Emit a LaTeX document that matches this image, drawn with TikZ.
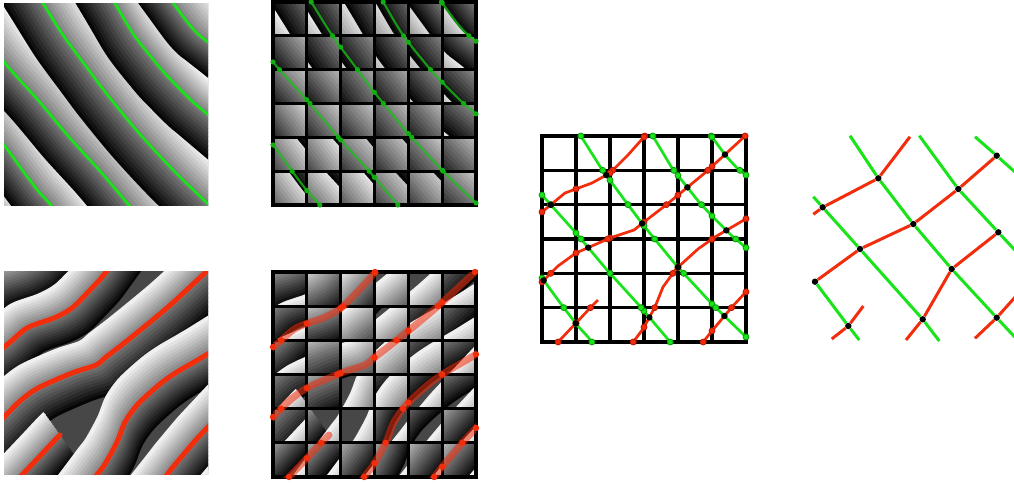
\documentclass[tikz,border=0pt]{standalone}
\usepackage{xcolor}
\usepackage{tikz}
\usetikzlibrary{intersections}

\definecolor{stripeGreen}{RGB}{25,228,25}
\definecolor{darkGreen}{RGB}{15,150,15}
\definecolor{stripeRed}{RGB}{242,45,12}
\definecolor{darkRed}{RGB}{185,25,5}

\tikzset{
  curvekind/.style={smooth},
  gridline/.style={line width=0.82mm, line cap=rect},
  greenline/.style={stripeGreen, line width=0.68mm, line join=round},
  redline/.style={stripeRed, line width=1.25mm, line cap=round, line join=round},
  softgreen/.style={stripeGreen!85!black, line width=0.55mm, opacity=0.75},
  softred/.style={stripeRed, line width=1.75mm, line cap=round, opacity=0.55},
  tracegreen/.style={stripeGreen, line width=0.68mm, line join=round},
  tracered/.style={stripeRed, line width=0.68mm, line join=round},
  gdot/.style={circle, fill=darkGreen!70!stripeGreen, inner sep=0pt, minimum size=1.3mm},
  rdot/.style={circle, fill=stripeRed, inner sep=0pt, minimum size=1.6mm},
  gring/.style={circle, fill=stripeGreen, draw=darkGreen, line width=0.2mm, inner sep=0pt, minimum size=1.5mm},
  rring/.style={circle, fill=stripeRed, draw=darkRed, line width=0.2mm, inner sep=0pt, minimum size=1.5mm},
  bdot/.style={circle, fill=black, inner sep=0pt, minimum size=1.6mm},
  meshgreen/.style={stripeGreen, line width=0.75mm},
  meshred/.style={stripeRed, line width=0.75mm},
}

% level lines, in pixels of the two left panels
\def\greenA{plot[curvekind] coordinates {(-33,98) (4,145) (23,171) (39,192) (50,204) (87,251)}}
\def\greenB{plot[curvekind] coordinates {(-32,14) (4,62) (38,100) (69,137) (100,171) (128,204) (167,250)}}
\def\greenC{plot[curvekind] coordinates {(9,-51) (41,0) (63,35) (88,69) (106,93) (138,132) (174,171) (206,202) (249,244)}}
\def\greenD{plot[curvekind] coordinates {(82,-52) (113,0) (134,35) (161,69) (174,83) (193,102) (206,113) (252,152)}}
\def\greenE{plot[curvekind] coordinates {(136,-48) (171,0) (188,23) (199,35) (208,42) (255,79)}}
\def\redA{plot[curvekind] coordinates {(-45,381) (4,347) (27,328) (54,318) (72,308) (90,290) (106,272) (141,223)}}
\def\redB{plot[curvekind] coordinates {(-38,459) (4,417) (20,401) (38,388) (72,373) (96,365) (106,357) (128,340) (168,307) (206,272) (250,232)}}
\def\redC{plot[curvekind] coordinates {(-20,519) (21,476) (39,457) (54,441) (60,435)}}
\def\redD{plot[curvekind] coordinates {(60,524) (96,476) (105,464) (117,442) (125,422) (138,404) (160,384) (177,372) (206,355) (257,323)}}
\def\redE{plot[curvekind] coordinates {(129,523) (166,476) (173,467) (194,442) (206,429) (247,385)}}

% sawtooth grey bands on both sides of one level line
\newcommand\bands[5]{%
  \foreach \k in {0,...,9}{%
    \pgfmathsetmacro\offs{-#4+(\k+0.5)*#4/10}%
    \pgfmathsetmacro\shadeval{48*(\k+0.5)/10}%
    \draw[draw=white!\shadeval!black, line width={(#4/10+1)*0.25mm}, line join=round,
          shift={(\offs*#2,\offs*(#3))}] #1;
  }%
  \foreach \k in {0,...,9}{%
    \pgfmathsetmacro\offs{(\k+0.5)*#5/10}%
    \pgfmathsetmacro\shadeval{48+48*(\k+0.5)/10}%
    \draw[draw=white!\shadeval!black, line width={(#5/10+1)*0.25mm}, line join=round,
          shift={(\offs*#2,\offs*(#3))}] #1;
  }}

\newcommand\topstripes{%
  \fill[black!72] (-60,-60) rectangle (280,280);
  \begin{scope}[shift={(-40.7,36.9)}]\bands{\greenA}{0.74}{-0.67}{30}{32}\end{scope}
  \bands{\greenA}{0.74}{-0.67}{30}{32}
  \bands{\greenB}{0.74}{-0.67}{32}{35}
  \bands{\greenC}{0.74}{-0.67}{35}{34}
  \bands{\greenD}{0.74}{-0.67}{34}{28}
  \bands{\greenE}{0.74}{-0.67}{28}{34}}

\newcommand\botstripes{%
  \fill[black!72] (-60,220) rectangle (280,540);
  \begin{scope}[shift={(-33,-46)}]\bands{\redA}{-0.58}{-0.81}{29}{29}\end{scope}
  \bands{\redA}{-0.58}{-0.81}{29}{29}
  \bands{\redB}{-0.58}{-0.81}{34}{29}
  \bands{\redC}{-0.58}{-0.81}{26}{28}
  \bands{\redD}{-0.58}{-0.81}{29}{32}
  \bands{\redE}{-0.58}{-0.81}{29}{29}
  \begin{scope}[shift={(33,46)}]\bands{\redE}{-0.58}{-0.81}{29}{29}\end{scope}}

% a marker on every crossing of two named paths
\newcommand\markx[3]{%
  \path[name intersections={of=#1 and #2, name=ix, total=\nsol}] \pgfextra{\xdef\nfound{\nsol}};
  \ifnum\nfound>0
    \foreach \m in {1,...,\nfound} {\node[#3] at (ix-\m) {};}
  \fi}

\begin{document}
\begin{tikzpicture}[x=0.25mm, y=-0.25mm]
\useasboundingbox (0,0) rectangle (1014,483);

% top left: stripes and green level lines
\begin{scope}
  \clip (4,3) rectangle (208,205);
  \topstripes
  \foreach \crv in {\greenA,\greenB,\greenC,\greenD,\greenE} \draw[greenline] \crv;
\end{scope}

% bottom left: stripes and red level lines
\begin{scope}
  \clip (4,271) rectangle (208,474);
  \botstripes
  \foreach \crv in {\redA,\redB,\redC,\redD,\redE} \draw[redline] \crv;
\end{scope}

% top middle: cell-wise shifted stripes on a grid
\begin{scope}
  \clip (273,2) rectangle (476,205);
  \begin{scope}[shift={(269,0)}]\topstripes\end{scope}
  \begin{scope}
    \clip \foreach \i in {0,...,5} {\foreach \j in {0,2,4} {({273+\i*203/6},{2+(\j+mod(\i+1,2))*203/6}) rectangle ++(203/6,203/6)}};
    \begin{scope}[shift={(289.4,-18.4)}]\topstripes\end{scope}
  \end{scope}
\end{scope}
\foreach \k in {0,...,6} {
  \draw[gridline, name path global=tv\k] ({273+\k*203/6},2) -- ++(0,203);
  \draw[gridline, name path global=th\k] (273,{2+\k*203/6}) -- ++(203,0);
}
\begin{scope}
  \clip (273,2) rectangle (476,205);
  \begin{scope}[shift={(269,0)}]
    \foreach \c/\crv in {a/\greenA,b/\greenB,c/\greenC,d/\greenD,e/\greenE}
      \draw[softgreen, name path global=tg\c] \crv;
  \end{scope}
\end{scope}
\foreach \c in {a,...,e} \foreach \k in {0,...,6} {\markx{tg\c}{tv\k}{gdot}\markx{tg\c}{th\k}{gdot}}

% bottom middle
\begin{scope}
  \clip (273,272) rectangle (476,477);
  \begin{scope}[shift={(269,0)}]\botstripes\end{scope}
  \begin{scope}
    \clip \foreach \i in {0,...,5} {\foreach \j in {0,2,4} {({273+\i*203/6},{272+(\j+mod(\i+1,2))*205/6}) rectangle ++(203/6,205/6)}};
    \begin{scope}[shift={(252.5,-23.1)}]\botstripes\end{scope}
  \end{scope}
\end{scope}
\foreach \k in {0,...,6} {
  \draw[gridline, name path global=bv\k] ({273+\k*203/6},272) -- ++(0,205);
  \draw[gridline, name path global=bh\k] (273,{272+\k*205/6}) -- ++(203,0);
}
\begin{scope}
  \clip (273,272) rectangle (476,477);
  \begin{scope}[shift={(269,0)}]
    \foreach \c/\crv in {a/\redA,b/\redB,c/\redC,d/\redD,e/\redE}
      \draw[softred, name path global=br\c] \crv;
  \end{scope}
\end{scope}
\foreach \c in {a,...,e} \foreach \k in {0,...,6} {\markx{br\c}{bv\k}{rdot}\markx{br\c}{bh\k}{rdot}}

% right grid: both families of lines traced cell by cell
\foreach \k in {0,...,6} {
  \draw[gridline, name path global=rv\k] ({542+\k*34},136) -- ++(0,206);
  \draw[gridline, name path global=rh\k] (542,{136+\k*206/6}) -- ++(204,0);
}
\begin{scope}[curvekind/.style={sharp plot}]
  \clip (542,136) rectangle (746,342);
  \begin{scope}[shift={(538,133)}]
    \foreach \c/\crv in {a/\greenA,b/\greenB,c/\greenC,d/\greenD,e/\greenE}
      \draw[tracegreen, name path global=rg\c] \crv;
  \end{scope}
  \begin{scope}[shift={(538,-135)}]
    \foreach \c/\crv in {a/\redA,b/\redB,c/\redC,d/\redD,e/\redE}
      \draw[tracered, name path global=rr\c] \crv;
  \end{scope}
\end{scope}
\foreach \c in {a,...,e} \foreach \k in {0,...,6} {%
  \markx{rg\c}{rv\k}{gring}\markx{rg\c}{rh\k}{gring}%
  \markx{rr\c}{rv\k}{rring}\markx{rr\c}{rh\k}{rring}}
\begin{scope}
  \clip (539,133) rectangle (749,345);
  \foreach \c in {a,...,e} \foreach \q in {a,...,e} {\markx{rg\c}{rr\q}{bdot}}
\end{scope}

% far right: the mesh of crossings
\begin{scope}
  \clip (0,0) rectangle (1014,483);
  \node[bdot] (m1) at (822.7,207.3) {};
  \node[bdot] (m2) at (878.3,178.3) {};
  \node[bdot] (m3) at (860,249) {};
  \node[bdot] (m4) at (913.3,224) {};
  \node[bdot] (m5) at (958.3,189) {};
  \node[bdot] (m6) at (996.7,155.7) {};
  \node[bdot] (m7) at (815,281.7) {};
  \node[bdot] (m8) at (848.3,326) {};
  \node[bdot] (m9) at (922.7,319.3) {};
  \node[bdot] (m10) at (951.7,269) {};
  \node[bdot] (m11) at (998.3,232.3) {};
  \node[bdot] (m12) at (996.7,317.7) {};
  \coordinate (ga) at (813.3,196.7);
  \coordinate (gaend) at (939.3,341);
  \coordinate (gb) at (850,135.7);
  \coordinate (gbend) at (1025,348);
  \coordinate (gc) at (919.3,135.7);
  \coordinate (gcend) at (1025,261);
  \coordinate (gd) at (975,136.7);
  \coordinate (gdend) at (1025,181);
  \coordinate (geend) at (859.3,340);
  \coordinate (ra) at (813.3,214.3);
  \coordinate (raend) at (910,136.7);
  \coordinate (rc) at (863.3,306);
  \coordinate (rcend) at (831.7,339);
  \coordinate (rd) at (906,340);
  \coordinate (re) at (975,338.3);
  \coordinate (reend) at (1025,286);
  \draw[meshgreen] (ga) -- (m1) -- (m3) -- (m9) -- (gaend);
  \draw[meshgreen] (gb) -- (m2) -- (m4) -- (m10) -- (m12) -- (gbend);
  \draw[meshgreen] (gc) -- (m5) -- (m11) -- (gcend);
  \draw[meshgreen] (gd) -- (m6) -- (gdend);
  \draw[meshgreen] (m7) -- (m8) -- (geend);
  \draw[meshred] (ra) -- (m1) -- (m2) -- (raend);
  \draw[meshred] (m7) -- (m3) -- (m4) -- (m5) -- (m6);
  \draw[meshred] (rc) -- (m8) -- (rcend);
  \draw[meshred] (rd) -- (m9) -- (m10) -- (m11);
  \draw[meshred] (re) -- (m12) -- (reend);
\end{scope}
\end{tikzpicture}
\end{document}
